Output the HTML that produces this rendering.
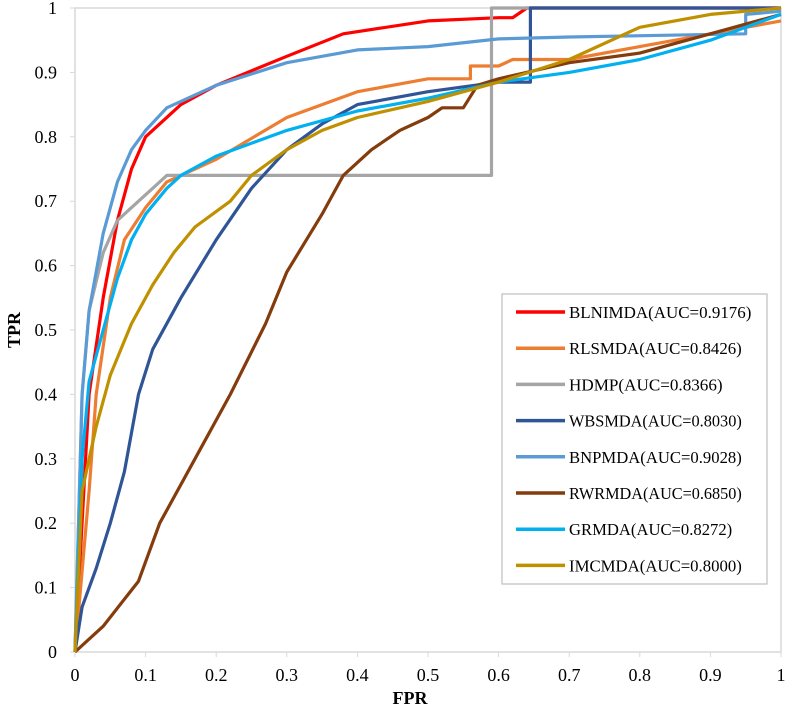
<!DOCTYPE html>
<html><head><meta charset="utf-8"><style>
body{margin:0;background:#fff;}
svg text{font-family:"Liberation Serif",serif;}
</style></head><body>
<svg id="chart" width="786" height="715" viewBox="0 0 786 715" xmlns="http://www.w3.org/2000/svg">
<g id="axes"></g><g id="series"></g><g id="legend"></g>
</svg>
<script>
const xTicks=[0,0.1,0.2,0.3,0.4,0.5,0.6,0.7,0.8,0.9,1];
const yTicks=[0,0.1,0.2,0.3,0.4,0.5,0.6,0.7,0.8,0.9,1];
const names=["BLNIMDA(AUC=0.9176)","RLSMDA(AUC=0.8426)","HDMP(AUC=0.8366)","WBSMDA(AUC=0.8030)","BNPMDA(AUC=0.9028)","RWRMDA(AUC=0.6850)","GRMDA(AUC=0.8272)","IMCMDA(AUC=0.8000)"];
const colors=["#ff0000","#ed7d31","#a5a5a5","#2f5597","#5b9bd5","#843c0c","#00b0f0","#bf9000"];
const fprBLNIMDA=[0,0.02,0.04,0.06,0.08,0.1,0.15,0.2,0.3,0.38,0.5,0.6,0.62,0.64,1];
const tprBLNIMDA=[0,0.4,0.55,0.67,0.75,0.8,0.85,0.88,0.925,0.96,0.98,0.985,0.985,1,1];
const fprRLSMDA=[0,0.02,0.03,0.05,0.07,0.1,0.13,0.2,0.3,0.4,0.5,0.56,0.56,0.6,0.62,0.7,0.8,0.9,1];
const tprRLSMDA=[0,0.25,0.4,0.55,0.64,0.69,0.73,0.765,0.83,0.87,0.89,0.89,0.91,0.91,0.92,0.92,0.94,0.96,0.98];
const fprHDMP=[0,0.01,0.02,0.04,0.06,0.09,0.11,0.13,0.59,0.59,1];
const tprHDMP=[0,0.4,0.53,0.62,0.67,0.7,0.72,0.74,0.74,1,1];
const fprWBSMDA=[0,0.01,0.03,0.05,0.07,0.09,0.11,0.15,0.2,0.25,0.3,0.35,0.4,0.5,0.6,0.645,0.645,1];
const tprWBSMDA=[0,0.07,0.13,0.2,0.28,0.4,0.47,0.55,0.64,0.72,0.78,0.82,0.85,0.87,0.885,0.885,1,1];
const fprBNPMDA=[0,0.01,0.02,0.04,0.06,0.08,0.1,0.13,0.2,0.3,0.4,0.5,0.6,0.7,0.95,0.95,1];
const tprBNPMDA=[0,0.4,0.53,0.65,0.73,0.78,0.81,0.845,0.88,0.915,0.935,0.94,0.952,0.955,0.96,0.99,0.995];
const fprRWRMDA=[0,0.04,0.09,0.12,0.17,0.22,0.27,0.3,0.35,0.38,0.42,0.46,0.5,0.52,0.55,0.57,0.6,0.7,0.8,0.9,1];
const tprRWRMDA=[0,0.04,0.11,0.2,0.3,0.4,0.51,0.59,0.68,0.74,0.78,0.81,0.83,0.845,0.845,0.88,0.89,0.915,0.93,0.96,0.99];
const fprGRMDA=[0,0.01,0.02,0.04,0.06,0.08,0.1,0.13,0.15,0.2,0.3,0.4,0.5,0.6,0.7,0.8,0.9,1];
const tprGRMDA=[0,0.3,0.42,0.5,0.58,0.64,0.68,0.72,0.74,0.77,0.81,0.84,0.86,0.885,0.9,0.92,0.95,0.99];
const fprIMCMDA=[0,0.01,0.03,0.05,0.08,0.11,0.14,0.17,0.22,0.25,0.3,0.35,0.4,0.5,0.6,0.7,0.8,0.9,1];
const tprIMCMDA=[0,0.25,0.35,0.43,0.51,0.57,0.62,0.66,0.7,0.74,0.78,0.81,0.83,0.855,0.885,0.92,0.97,0.99,1];
const fprs=[fprBLNIMDA,fprRLSMDA,fprHDMP,fprWBSMDA,fprBNPMDA,fprRWRMDA,fprGRMDA,fprIMCMDA];
const tprs=[tprBLNIMDA,tprRLSMDA,tprHDMP,tprWBSMDA,tprBNPMDA,tprRWRMDA,tprGRMDA,tprIMCMDA];
const X0=75,X1=781,Y0=652,Y1=8;
const sx=v=>X0+v*(X1-X0), sy=v=>Y0-v*(Y0-Y1);
const NS="http://www.w3.org/2000/svg";
function mk(t,a,p){const e=document.createElementNS(NS,t);for(const k in a)e.setAttribute(k,a[k]);p.appendChild(e);return e;}
const ax=document.getElementById('axes');
const frame=mk('rect',{x:X0,y:Y1,width:X1-X0,height:Y0-Y1,fill:'none',stroke:'#d9d9d9','stroke-width':1.5},ax);


xTicks.forEach(v=>{
 const l=mk('line',{x1:sx(v),x2:sx(v),y1:Y0,y2:Y0+5,stroke:'#d9d9d9'},ax);
 
 
 const t=mk('text',{x:sx(v),y:Y0+29,'text-anchor':'middle','font-size':18},ax);t.textContent=String(v);
 
 
});
yTicks.forEach(v=>{
 const l=mk('line',{x1:X0-5,x2:X0,y1:sy(v),y2:sy(v),stroke:'#d9d9d9'},ax);
 
 
 const t=mk('text',{x:X0-18,y:sy(v)+6,'text-anchor':'end','font-size':18},ax);t.textContent=String(v);
 
 
});
const xt=mk('text',{x:410,y:704,'text-anchor':'middle','font-size':18,'font-weight':'bold'},ax);xt.textContent='FPR';


const yt=mk('text',{x:20,y:330,'text-anchor':'middle','font-size':18,'font-weight':'bold',transform:'rotate(-90 20 330)'},ax);yt.textContent='TPR';


const sg=document.getElementById('series');
fprs.forEach((f,i)=>{
 const d=f.map((v,j)=>(j?'L':'M')+sx(v).toFixed(1)+' '+sy(tprs[i][j]).toFixed(1)).join(' ');
 const p=mk('path',{d:d,fill:'none',stroke:colors[i],'stroke-width':3.2,'stroke-linejoin':'round'},sg);
 
 
});
const lg=document.getElementById('legend');
const box=mk('rect',{x:502,y:294,width:265,height:290,fill:'#fff',stroke:'#bfbfbf','stroke-width':1.2},lg);


names.forEach((n,i)=>{
 const y=312+i*36.2;
 const l=mk('line',{x1:516,x2:565,y1:y,y2:y,stroke:colors[i],'stroke-width':3.5},lg);
 
 
 const t=mk('text',{x:569,y:y+6,'font-size':17,textLength:n.length*9.6,lengthAdjust:'spacingAndGlyphs'},lg);t.textContent=n;
 
 
});
</script>
</body></html>
